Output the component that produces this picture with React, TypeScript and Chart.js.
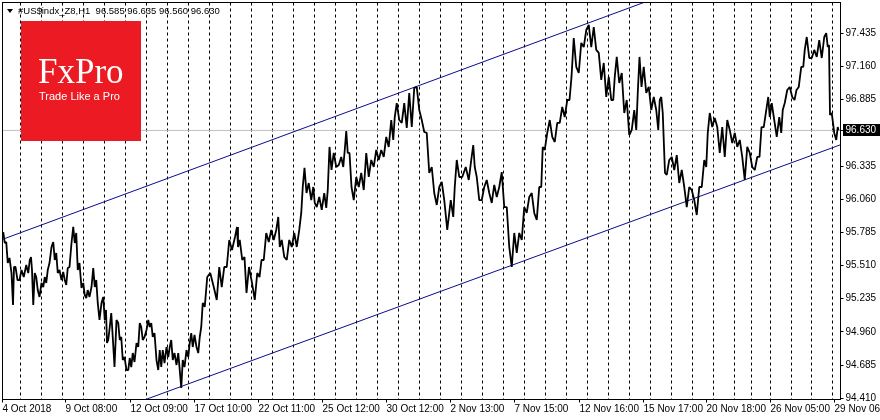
import React, { useEffect, useRef } from "react";
import { Chart, registerables } from "chart.js";

Chart.register(...registerables);

// ---- chart meta ----
const symbolTitle = "#US$indx_Z8,H1";
const lastBar = [96.585, 96.635, 96.56, 96.63]; // open, high, low, close
const lastBarIndex = 836;
const xMin = 0;
const xMax = 838;
const yMin = 94.4;
const yMax = 97.69;

// ---- price trace: bar-index windows with their high / low ----
const segStart = [
  0, 3, 6, 10, 12, 16, 20, 25, 28, 30,
  33, 36, 40, 43, 46, 50, 53, 56, 60, 63,
  66, 70, 73, 76, 80, 83, 86, 90, 93, 96,
  100, 103, 105, 108, 111, 115, 118, 121, 125, 128,
  131, 135, 138, 141, 145, 148, 151, 155, 158, 161,
  165, 168, 171, 175, 178, 181, 185, 188, 191, 195,
  198, 201, 206, 213, 218, 223, 228, 234, 236, 241,
  245, 251, 256, 260, 265, 270, 275, 278, 283, 288,
  293, 298, 301, 305, 310, 313, 318, 323, 326, 330,
  335, 340, 343, 346, 350, 355, 360, 365, 370, 375,
  380, 385, 390, 393, 398, 403, 408, 413, 418, 423,
  428, 433, 438, 443, 450, 453, 458, 465, 470, 473,
  478, 483, 488, 493, 498, 503, 508, 513, 518, 523,
  528, 533, 538, 541, 546, 551, 556, 561, 566, 570,
  575, 580, 585, 590, 595, 600, 605, 610, 613, 618,
  623, 628, 633, 636, 640, 645, 650, 655, 658, 661,
  663, 668, 673, 678, 683, 688, 693, 698, 703, 706,
  711, 716, 721, 726, 731, 736, 741, 746, 751, 756,
  760, 765, 768, 773, 778, 781, 786, 791, 795, 800,
  803, 808, 813, 818, 823, 826, 828, 833,
];
const segHigh = [
  95.788, 95.705, 95.573, 95.498, 95.498, 95.473, 95.515, 95.556, 95.581, 95.448,
  95.415, 95.366, 95.415, 95.473, 95.664, 95.705, 95.614, 95.473, 95.457, 95.49,
  95.697, 95.83, 95.78, 95.531, 95.366, 95.307, 95.332, 95.49, 95.39, 95.2,
  95.25, 95.142, 95.001, 95.117, 95.059, 95.034, 94.918, 94.752, 94.744, 94.785,
  94.868, 95.034, 95.001, 94.976, 95.059, 95.034, 94.951, 94.81, 94.81, 94.835,
  94.835, 94.893, 94.785, 94.785, 94.727, 94.81, 94.868, 94.951, 94.935, 94.918,
  95.2, 95.415, 95.448, 95.498, 95.498, 95.722, 95.747, 95.83, 95.722, 95.581,
  95.498, 95.448, 95.556, 95.78, 95.805, 95.805, 95.913, 95.722, 95.722, 95.78,
  95.805, 96.161, 96.319, 96.194, 96.161, 96.078, 96.111, 96.136, 96.493, 96.443,
  96.41, 96.468, 96.625, 96.443, 96.244, 96.277, 96.443, 96.385, 96.468, 96.468,
  96.576, 96.716, 96.741, 96.857, 96.857, 96.94, 96.982, 96.99, 96.716, 96.609,
  96.327, 96.161, 96.203, 96.053, 96.161, 96.385, 96.327, 96.385, 96.509, 96.244,
  96.161, 96.219, 96.178, 96.161, 96.285, 95.995, 95.78, 95.78, 95.995, 96.078,
  96.111, 96.161, 96.493, 96.609, 96.716, 96.692, 96.824, 96.882, 97.073, 97.396,
  97.355, 97.462, 97.504, 97.487, 97.272, 97.189, 97.073, 97.073, 97.239, 97.106,
  96.882, 96.799, 96.94, 97.239, 97.156, 96.99, 96.907, 96.882, 96.907, 96.493,
  96.385, 96.41, 96.426, 96.302, 96.161, 96.136, 96.161, 96.385, 96.609, 96.774,
  96.733, 96.658, 96.716, 96.634, 96.609, 96.551, 96.493, 96.443, 96.41, 96.658,
  96.799, 96.907, 96.857, 96.741, 96.799, 96.965, 96.99, 96.965, 97.156, 97.297,
  97.404, 97.297, 97.379, 97.404, 97.437, 97.338, 96.774, 96.658,
];
const segLow = [
  95.697, 95.531, 95.448, 95.183, 95.39, 95.39, 95.415, 95.448, 95.473, 95.183,
  95.307, 95.25, 95.332, 95.366, 95.531, 95.556, 95.448, 95.39, 95.39, 95.349,
  95.498, 95.697, 95.473, 95.324, 95.266, 95.241, 95.25, 95.332, 95.2, 95.059,
  95.059, 94.868, 94.893, 94.918, 94.669, 94.893, 94.727, 94.644, 94.644, 94.669,
  94.711, 94.835, 94.893, 94.918, 95.001, 94.918, 94.727, 94.644, 94.669, 94.702,
  94.752, 94.727, 94.686, 94.644, 94.495, 94.669, 94.752, 94.835, 94.835, 94.785,
  95.001, 95.167, 95.332, 95.225, 95.332, 95.498, 95.639, 95.664, 95.556, 95.283,
  95.366, 95.225, 95.415, 95.556, 95.705, 95.722, 95.664, 95.581, 95.556, 95.664,
  95.664, 95.946, 96.111, 96.053, 96.029, 95.995, 95.971, 95.987, 96.302, 96.327,
  96.343, 96.327, 96.443, 96.161, 96.053, 96.161, 96.136, 96.244, 96.327, 96.385,
  96.41, 96.493, 96.551, 96.716, 96.692, 96.65, 96.658, 96.799, 96.617, 96.277,
  96.111, 96.012, 96.053, 95.805, 95.913, 96.244, 96.244, 96.219, 96.327, 96.053,
  96.053, 96.111, 96.029, 96.078, 95.995, 95.664, 95.498, 95.614, 95.722, 95.946,
  95.946, 95.888, 96.161, 96.468, 96.576, 96.534, 96.692, 96.741, 96.882, 97.156,
  97.106, 97.321, 97.321, 97.297, 97.048, 96.907, 96.882, 96.882, 97.023, 96.774,
  96.592, 96.634, 96.634, 96.99, 96.94, 96.799, 96.799, 96.634, 96.774, 96.277,
  96.261, 96.302, 96.194, 96.161, 95.995, 96.053, 95.929, 96.161, 96.327, 96.658,
  96.658, 96.443, 96.41, 96.526, 96.493, 96.41, 96.219, 96.327, 96.302, 96.41,
  96.658, 96.741, 96.716, 96.576, 96.609, 96.857, 96.907, 96.882, 96.99, 97.156,
  97.23, 97.23, 97.239, 97.23, 97.321, 96.758, 96.609, 96.551,
];

// ---- channel lines (bar index, price) ----
const upperChannelIdx = [0, 838];
const upperChannelPrice = [95.727, 98.292];
const lowerChannelIdx = [0, 838];
const lowerChannelPrice = [93.965, 96.511];

// ---- axes ----
const dayGridIdx = [
  18, 39, 60, 81, 102, 123, 144, 165, 186, 207, 228, 249, 270, 291, 312, 333, 354, 375,
  396, 417, 438, 459, 480, 501, 522, 543, 564, 585, 606, 627, 648, 669, 690, 711, 732,
  749, 768, 789, 809, 830,
];
const dateLabelIdx = [0, 63, 128, 192, 256, 320, 384, 448, 512, 577, 641, 704, 768, 832];
const dateLabels = [
  "4 Oct 2018", "9 Oct 08:00", "12 Oct 09:00", "17 Oct 10:00", "22 Oct 11:00",
  "25 Oct 12:00", "30 Oct 12:00", "2 Nov 13:00", "7 Nov 15:00", "12 Nov 16:00",
  "15 Nov 17:00", "20 Nov 18:00", "26 Nov 05:00", "29 Nov 06:00",
];
const priceTicks = [97.435, 97.16, 96.885, 96.335, 96.06, 95.785, 95.51, 95.235, 94.96, 94.685, 94.41];

const FONT = "'Liberation Sans', Arial, sans-serif";

export default function App() {
  const ref = useRef<HTMLCanvasElement>(null);

  useEffect(() => {
    const canvas = ref.current;
    if (!canvas) return;

    const n = segStart.length;
    const pricePts: { x: number; y: number }[] = [];
    for (let i = 0; i < n; i++) {
      const s = segStart[i];
      const e = i + 1 < n ? segStart[i + 1] : lastBarIndex;
      const w = e - s;
      const mid = (segHigh[i] + segLow[i]) / 2;
      const nextMid = i + 1 < n ? (segHigh[i + 1] + segLow[i + 1]) / 2 : lastBar[3];
      const up = nextMid > mid;
      const a = up ? segLow[i] : segHigh[i];
      const b = up ? segHigh[i] : segLow[i];
      pricePts.push({ x: s + w * 0.25, y: a }, { x: s + w * 0.75, y: b });
    }
    pricePts.push({ x: lastBarIndex, y: lastBar[3] });

    const upper = upperChannelIdx.map((x, i) => ({ x, y: upperChannelPrice[i] }));
    const lower = lowerChannelIdx.map((x, i) => ({ x, y: lowerChannelPrice[i] }));
    const closeLine = [
      { x: xMin, y: lastBar[3] },
      { x: xMax, y: lastBar[3] },
    ];

    const overlay = {
      id: "mtOverlay",
      afterDatasetsDraw(chart: any) {
        const { ctx, chartArea } = chart;
        ctx.save();
        ctx.strokeStyle = "#000";
        ctx.lineWidth = 1;
        ctx.strokeRect(chartArea.left, chartArea.top, chartArea.right - chartArea.left, chartArea.bottom - chartArea.top);
        ctx.restore();
      },
      afterDraw(chart: any) {
        const { ctx, chartArea } = chart;
        const yScale = chart.scales.y;
        ctx.save();
        // logo
        ctx.fillStyle = "#ec1b23";
        ctx.fillRect(21, 21, 120, 120);
        ctx.fillStyle = "#ffffff";
        ctx.textAlign = "left";
        ctx.textBaseline = "alphabetic";
        ctx.font = "35px 'Liberation Serif', 'Times New Roman', serif";
        ctx.fillText("FxPro", 38, 83);
        ctx.font = "11px " + FONT;
        ctx.fillText("Trade Like a Pro", 39, 99.5);

        // title
        ctx.fillStyle = "#000";
        ctx.beginPath();
        ctx.moveTo(7, 9);
        ctx.lineTo(13, 9);
        ctx.lineTo(10, 13);
        ctx.closePath();
        ctx.fill();
        ctx.font = "9.5px " + FONT;
        ctx.textBaseline = "middle";
        const title =
          symbolTitle + "  " + lastBar.map((v) => v.toFixed(3)).join(" ");
        ctx.fillText(title, 18, 11);

        // current price box
        const py = Math.round(yScale.getPixelForValue(lastBar[3])) + 0.5;
        ctx.strokeStyle = "#000";
        ctx.beginPath();
        ctx.moveTo(chartArea.right, py);
        ctx.lineTo(chartArea.right + 3, py);
        ctx.stroke();
        ctx.fillStyle = "#000";
        ctx.fillRect(843, py - 6.5, 37, 12);
        ctx.fillStyle = "#fff";
        ctx.font = "10px " + FONT;
        ctx.textBaseline = "middle";
        ctx.fillText(lastBar[3].toFixed(3), 845.5, py);
        ctx.restore();
      },
    };

    const chart = new Chart(canvas, {
      type: "line",
      data: {
        datasets: [
          {
            data: pricePts,
            borderColor: "#000",
            borderWidth: 1.8,
            borderJoinStyle: "bevel",
            pointRadius: 0,
            tension: 0,
          },
          {
            data: upper,
            borderColor: "#0b0b8c",
            borderWidth: 1,
            pointRadius: 0,
          },
          {
            data: lower,
            borderColor: "#0b0b8c",
            borderWidth: 1,
            pointRadius: 0,
          },
          {
            data: closeLine,
            borderColor: "#c0c0c0",
            borderWidth: 1,
            pointRadius: 0,
          },
        ],
      },
      options: {
        animation: false,
        responsive: true,
        maintainAspectRatio: false,
        layout: { padding: { left: 2.5, top: 2.5, right: 0, bottom: 0 } },
        plugins: { legend: { display: false }, tooltip: { enabled: false } },
        scales: {
          x: {
            type: "linear",
            position: "bottom",
            min: xMin,
            max: xMax,
            afterBuildTicks: (s: any) => {
              s.ticks = dayGridIdx.map((v) => ({ value: v }));
            },
            ticks: { display: false },
            grid: { display: true, drawOnChartArea: true, drawTicks: false, color: "#000", lineWidth: 1 },
            border: { display: false, dash: [3, 3] },
            afterFit: (s: any) => {
              s.height = 0;
              s.paddingLeft = 0;
              s.paddingRight = 0;
            },
          },
          xl: {
            type: "linear",
            axis: "x",
            position: "bottom",
            min: xMin,
            max: xMax,
            afterBuildTicks: (s: any) => {
              s.ticks = dateLabelIdx.map((v) => ({ value: v }));
            },
            ticks: {
              autoSkip: false,
              maxRotation: 0,
              minRotation: 0,
              align: "start",
              padding: 1,
              color: "#000",
              font: { family: FONT, size: 10 },
              callback: (_v: any, i: number) => dateLabels[i],
            },
            grid: { drawOnChartArea: false, drawTicks: true, tickLength: 3, color: "#000" },
            border: { display: false },
            afterFit: (s: any) => {
              s.height = 20.5;
              s.paddingLeft = 0;
              s.paddingRight = 0;
            },
          },
          y: {
            type: "linear",
            position: "right",
            min: yMin,
            max: yMax,
            afterBuildTicks: (s: any) => {
              s.ticks = priceTicks.map((v) => ({ value: v }));
            },
            ticks: {
              autoSkip: false,
              padding: 2,
              color: "#000",
              font: { family: FONT, size: 10 },
              callback: (v: any) => Number(v).toFixed(3),
            },
            grid: { drawOnChartArea: false, drawTicks: true, tickLength: 3, color: "#000" },
            border: { display: false },
            afterFit: (s: any) => {
              s.width = 39.5;
              s.paddingTop = 0;
              s.paddingBottom = 0;
            },
          },
        },
      } as any,
      plugins: [overlay],
    });
    return () => chart.destroy();
  }, []);

  return (
    <div style={{ position: "fixed", left: 0, top: 0, width: 880, height: 420, background: "#fff" }}>
      <canvas ref={ref} />
    </div>
  );
}
